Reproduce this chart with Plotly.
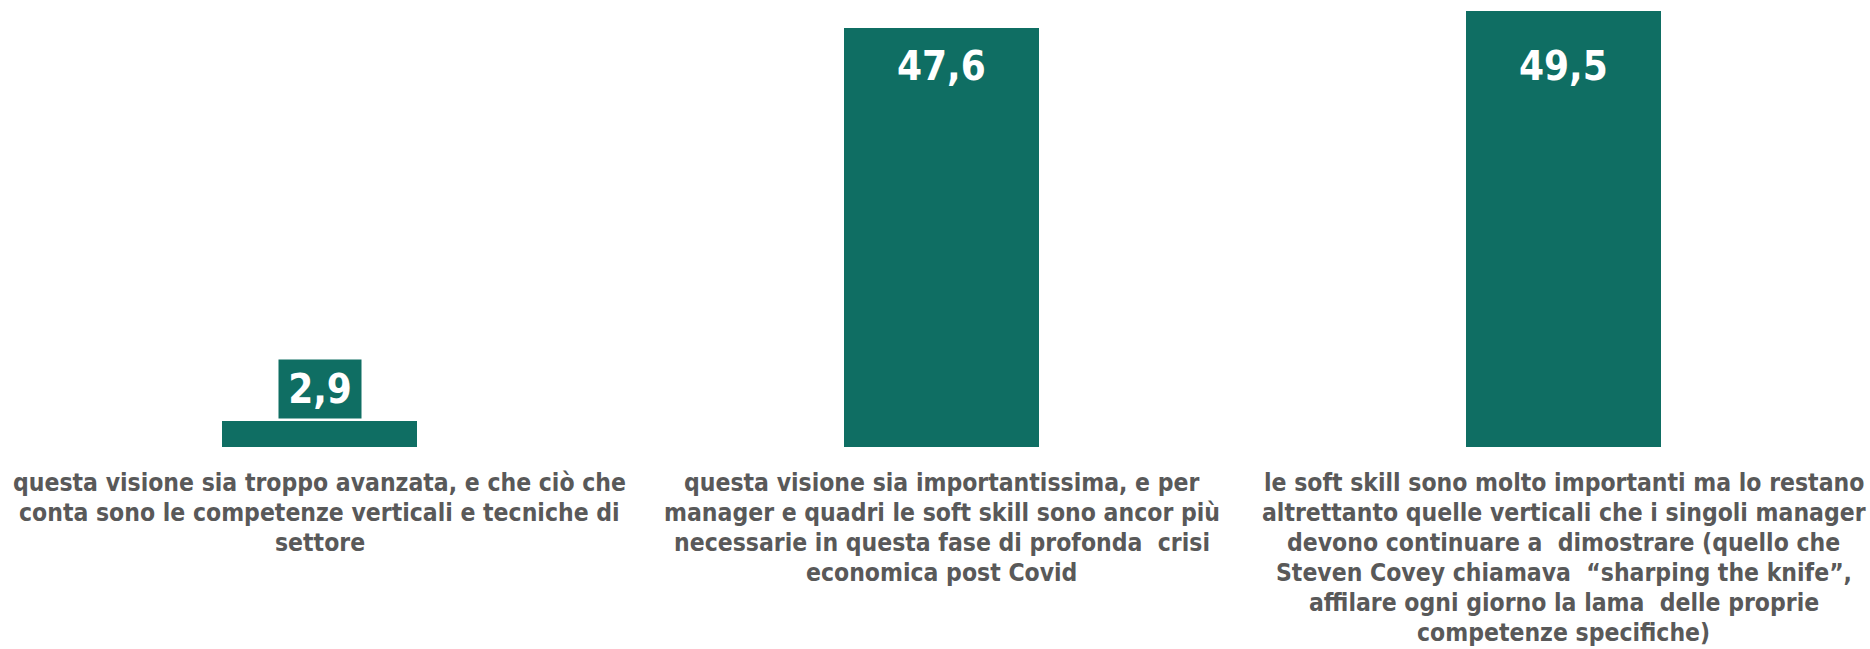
import plotly.graph_objects as go

categories = [
    "questa visione sia troppo avanzata, e che ciò che<br>conta sono le competenze verticali e tecniche di<br>settore",
    "questa visione sia importantissima, e per<br>manager e quadri le soft skill sono ancor più<br>necessarie in questa fase di profonda  crisi<br>economica post Covid",
    "le soft skill sono molto importanti ma lo restano<br>altrettanto quelle verticali che i singoli manager<br>devono continuare a  dimostrare (quello che<br>Steven Covey chiamava  “sharping the knife”,<br>affilare ogni giorno la lama  delle proprie<br>competenze specifiche)",
]
values = [2.9, 47.6, 49.5]
value_labels = ["2,9", "47,6", "49,5"]

TEAL = "#0F6E63"
GREY = "#595959"
FONT = "DejaVu Sans Condensed, DejaVu Sans, sans-serif"

fig = go.Figure()
fig.add_trace(go.Bar(
    x=categories, y=values, width=0.3135,
    marker=dict(color=TEAL, line=dict(width=0)),
    hoverinfo="skip",
))

for cat, v, lab in zip(categories, values, value_labels):
    if v < 10:
        fig.add_annotation(x=cat, y=v, xref="x", yref="y", text=f"<b>{lab}</b>",
                           showarrow=False, yanchor="bottom", yshift=2,
                           bgcolor=TEAL, borderpad=3, width=76, height=52,
                           font=dict(family=FONT, size=40, color="white"))
    else:
        fig.add_annotation(x=cat, y=0.8525, xref="x", yref="paper", text=f"<b>{lab}</b>",
                           showarrow=False, yanchor="middle",
                           font=dict(family=FONT, size=40, color="white"))

# category labels, one line at a time (fixed 30 px line pitch)
LINE_PITCH = 30.1
FIRST_LINE = 35
for cat in categories:
    for i, line in enumerate(cat.split("<br>")):
        fig.add_annotation(x=cat, y=0, xref="x", yref="y", text=f"<b>{line}</b>",
                           showarrow=False, yanchor="middle", xanchor="center",
                           yshift=-(FIRST_LINE + i * LINE_PITCH),
                           font=dict(family=FONT, size=24.5, color=GREY))

fig.update_layout(
    width=1870, height=649,
    margin=dict(l=0, r=0, t=0, b=202),
    plot_bgcolor="white", paper_bgcolor="white",
    showlegend=False, bargap=0,
    font=dict(family=FONT),
)
fig.update_xaxes(
    range=[-0.514, 2.492], showgrid=False, zeroline=False, showline=False,
    automargin=False, showticklabels=False, ticks="",
)
fig.update_yaxes(range=[0, 50.74], visible=False, showgrid=False, zeroline=False,
                 automargin=False)

fig.write_html("out.html")
